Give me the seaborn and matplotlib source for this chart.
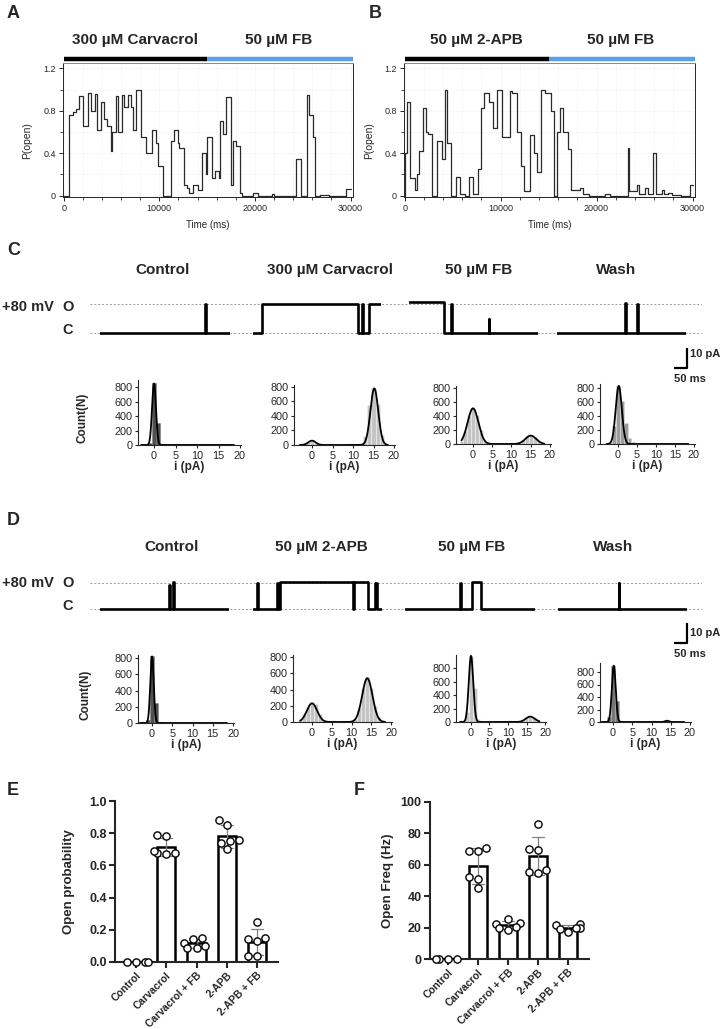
import numpy as np
import pandas as pd
import matplotlib
matplotlib.use('Agg')
import matplotlib.pyplot as plt
from matplotlib.ticker import MultipleLocator
import seaborn as sns

sns.set_style('ticks')
plt.rcParams['font.family'] = ['Liberation Sans', 'DejaVu Sans']

W, H = 724, 1029

# ---------------- data ----------------
# A / B : P(open) steps (start time in ms, value)
a_conditions = ['300 µM Carvacrol', '50 µM FB']
b_conditions = ['50 µM 2-APB', '50 µM FB']
cond_edges = [0, 15000, 30260]
cond_colors = ['black', '#5b9ee8']
popen_ticks = [0, 0.4, 0.8, 1.2]
popen_ticklabels = ['0', '0.4', '0.8', '1.2']
time_ticks = [0, 10000, 20000, 30000]

a_t = [0, 0, 550, 1000, 1300, 1650, 2050, 2550, 2850, 3250, 3450, 3950, 4200, 4550, 4900, 5100,
       5500, 5700, 6150, 6350, 6750, 7000, 7250, 7600, 8050, 8600, 9200, 9700, 9900, 10350,
       11250, 11500, 11950, 12100, 12550, 12900, 13150, 13500, 14050, 14450, 14850, 15000,
       15550, 15800, 16200, 16300, 16700, 17000, 17450, 17750, 18050, 18400, 18600, 19850,
       20350, 21800, 22000, 24350, 24850, 25400, 25650, 26050, 26250, 26800, 27800, 29550, 30000]
a_p = [0.0, 0.0, 0.76, 0.79, 0.82, 0.94, 0.66, 0.97, 0.80, 0.96, 0.62, 0.88, 0.72, 0.66, 0.42, 0.60,
       0.94, 0.60, 0.95, 0.84, 0.95, 0.84, 0.62, 1.00, 0.55, 0.40, 0.62, 0.50, 0.28, 0.0,
       0.52, 0.62, 0.50, 0.45, 0.10, 0.07, 0.03, 0.10, 0.05, 0.40, 0.20, 0.55,
       0.17, 0.23, 0.17, 0.70, 0.58, 0.93, 0.10, 0.52, 0.47, 0.03, 0.0, 0.03,
       0.0, 0.02, 0.0, 0.35, 0.0, 0.95, 0.76, 0.55, 0.0, 0.01, 0.0, 0.06, 0.06]

b_t = [0, 0, 200, 600, 1050, 1250, 1450, 1900, 2250, 2450, 2880, 3400, 3850, 4200, 4450, 4880,
       5370, 5800, 6300, 6700, 7100, 7650, 7950, 8300, 8780, 9250, 9620, 10180, 10980, 11230,
       11680, 12100, 12480, 13080, 13530, 13780, 14190, 14650, 15240, 15520, 15870, 16220,
       16550, 16980, 17370, 18300, 18580, 19200, 20900, 21450, 23230, 23400, 24230, 24450,
       25050, 25350, 25840, 26200, 26850, 27050, 27400, 27900, 28780, 29700, 30000]
b_p = [0.0, 0.40, 0.88, 0.17, 0.05, 0.20, 0.42, 0.83, 0.60, 0.58, 0.0, 0.52, 0.35, 1.00, 0.50, 0.0,
       0.18, 0.02, 0.0, 0.18, 0.02, 0.25, 0.83, 0.97, 0.88, 0.64, 1.00, 0.55, 0.99, 0.97,
       0.60, 0.28, 0.04, 0.57, 0.40, 0.22, 1.00, 0.97, 0.80, 0.0, 0.60, 0.83,
       0.60, 0.44, 0.05, 0.07, 0.02, 0.0, 0.02, 0.0, 0.45, 0.04, 0.10, 0.02,
       0.07, 0.02, 0.40, 0.02, 0.05, 0.02, 0.03, 0.01, 0.0, 0.10, 0.10]

# C / D : single-channel traces (ms, pA), step levels
c_titles = ['Control', '300 µM Carvacrol', '50 µM FB', 'Wash']
d_titles = ['Control', '50 µM 2-APB', '50 µM FB', 'Wash']
open_level_c = 14.5
open_level_d = 13.0
scale_pA = 10
scale_ms = 50

c_traces = [
    ([0, 405, 407, 500], [0, 14.5, 0, 0]),
    ([0, 35, 410, 425, 428, 455, 500], [0, 14.5, 0, 14.5, 0, 14.5, 14.5]),
    ([0, 137, 163, 165, 310, 312, 500], [15.5, 0, 14.5, 0, 7, 0, 0]),
    ([0, 265, 267, 312, 314, 500], [0, 15, 0, 14.5, 0, 0]),
]
d_traces = [
    ([0, 268, 270, 284, 286, 500], [0, 12, 0, 13.5, 0, 0]),
    ([0, 15, 19, 94, 98, 106, 388, 391, 445, 474, 480, 500], [0, 13, 0, 13, 0, 13.5, 0, 13.5, 0, 13, 0, 0]),
    ([0, 213, 216, 259, 292, 500], [0, 13, 0, 13.5, 0, 0]),
    ([0, 236, 238, 500], [0, 13, 0, 0]),
]

# C / D : amplitude histograms, 1 pA bins centred on -3 ... 19 pA
bin_centers = np.arange(-3, 20)
c_counts = [
    [3, 5, 30, 850, 300, 15, 8, 8, 8, 8, 8, 8, 8, 8, 8, 8, 8, 8, 8, 8, 8, 8, 0],
    [2, 8, 35, 60, 35, 8, 2, 1, 1, 1, 1, 1, 1, 1, 1, 10, 120, 550, 780, 560, 140, 15, 0],
    [50, 180, 400, 510, 420, 200, 50, 10, 2, 2, 2, 2, 2, 2, 2, 20, 60, 110, 120, 100, 50, 15, 3],
    [2, 20, 250, 830, 620, 300, 80, 30, 15, 15, 15, 15, 15, 15, 15, 15, 15, 15, 15, 15, 15, 10, 0],
]
d_counts = [
    [3, 5, 40, 820, 250, 10, 6, 6, 6, 6, 6, 6, 6, 6, 6, 6, 6, 6, 6, 6, 0, 0, 0],
    [30, 100, 180, 230, 220, 100, 20, 2, 2, 2, 2, 2, 2, 2, 40, 170, 420, 540, 420, 200, 60, 10, 0],
    [2, 10, 150, 980, 500, 40, 10, 5, 5, 5, 5, 5, 5, 5, 5, 5, 10, 30, 60, 80, 60, 25, 5],
    [2, 10, 80, 900, 330, 20, 5, 5, 5, 5, 5, 5, 5, 5, 5, 5, 10, 20, 5, 0, 0, 0, 0],
]
# gaussian fits: (amplitude, mean, sd)
c_fits = [[(850, 0.0, 0.45)],
          [(60, 0.0, 0.9), (780, 15.2, 0.95)],
          [(510, 0.0, 1.4), (120, 15.0, 1.4)],
          [(830, 0.2, 0.8)]]
d_fits = [[(820, 0.0, 0.42)],
          [(230, 0.0, 1.3), (540, 14.0, 1.3)],
          [(980, 0.0, 0.6), (80, 16.0, 1.2)],
          [(900, 0.2, 0.5), (20, 14.0, 0.5)]]

# E / F : summary
groups = ['Control', 'Carvacrol', 'Carvacrol + FB', '2-APB', '2-APB + FB']
po_control = [0, 0, 0, 0]
po_carv = [0.79, 0.78, 0.68, 0.67, 0.69, 0.68]
po_carv_fb = [0.14, 0.15, 0.12, 0.09, 0.09, 0.10]
po_apb = [0.88, 0.85, 0.76, 0.75, 0.74, 0.70]
po_apb_fb = [0.25, 0.15, 0.14, 0.13, 0.04, 0.04]
fr_control = [0, 0, 0, 0]
fr_carv = [71, 68.5, 68.5, 51, 52, 45]
fr_carv_fb = [22, 23, 25.5, 18.5, 19.5, 20.5]
fr_apb = [86, 70, 69.5, 57, 55.5, 55]
fr_apb_fb = [21.5, 22, 20, 19, 19.5, 17]

# ---------------- figure ----------------
fig = plt.figure(figsize=(W / 100, H / 100), dpi=100)


def px_axes(l, t, r, b):
    return fig.add_axes([l / W, 1 - b / H, (r - l) / W, (b - t) / H])


def px_text(x, y, s, **kw):
    fig.text(x / W, 1 - y / H, s, **kw)


for lab, x, y in [('A', 7, 5), ('B', 369, 5), ('C', 7, 242), ('D', 7, 512), ('E', 7, 782), ('F', 354, 782)]:
    px_text(x, y, lab, fontsize=13, fontweight='bold', va='top', ha='left')


# ---- A / B ----
def popen_panel(box, t, p, conds, ylab_x):
    ax = px_axes(*box)
    sns.lineplot(x=t, y=p, drawstyle='steps-post', color='#2a2a2a', lw=0.9,
                 sort=False, estimator=None, ax=ax)
    ax.set_xlim(-70, 30260)
    ax.set_ylim(-0.012, 1.25)
    ax.set_xticks(time_ticks)
    ax.set_yticks(popen_ticks)
    ax.set_yticklabels(popen_ticklabels)
    ax.xaxis.set_minor_locator(MultipleLocator(2000))
    ax.yaxis.set_minor_locator(MultipleLocator(0.2))
    ax.grid(True, which='both', color='#e8e8e8', lw=0.5, ls=':')
    ax.tick_params(labelsize=6.5, length=3, width=0.7, pad=2)
    ax.tick_params(which='minor', length=2, width=0.6)
    for s in ax.spines.values():
        s.set_linewidth(0.7)
    ax.spines['top'].set_color('#888888')
    ax.set_xlabel('Time (ms)', fontsize=7)
    ax.set_ylabel('P(open)', fontsize=7.5)
    ax.xaxis.set_label_coords(0.5, -0.17)
    ax.yaxis.set_label_coords(ylab_x, 0.42)
    tr = ax.get_xaxis_transform()
    ax.hlines([1.028, 1.028], cond_edges[:-1], cond_edges[1:], colors=cond_colors,
              lw=3.2, transform=tr, clip_on=False)
    for i, c in enumerate(conds):
        ax.text((cond_edges[i] + cond_edges[i + 1] - 260 * (i == 1)) / 2, 1.17, c,
                transform=tr, ha='center', va='center', fontsize=11, fontweight='bold')


popen_panel((63, 63, 353, 197), a_t, a_p, a_conditions, -0.107)
popen_panel((404, 63, 695, 197), b_t, b_p, b_conditions, -0.103)


# ---- C / D traces ----
def trace_row(titles, traces, xs, c_y, open_level, title_x, title_y, sb_box, sb_text):
    top, bot = c_y - 21.5 * 2, c_y + 6 * 2
    bg = px_axes(90, top, 702, bot)
    bg.set_ylim(-6, 21.5)
    bg.axhline(0, color='#9a9a9a', lw=0.7, ls=(0, (2, 2)))
    bg.axhline(open_level, color='#9a9a9a', lw=0.7, ls=(0, (2, 2)))
    bg.axis('off')
    for (l, r), (t, i) in zip(xs, traces):
        ax = px_axes(l, top, r, bot)
        ax.step(t, i, where='post', color='black', lw=1.9)
        ax.set_xlim(0, 500)
        ax.set_ylim(-6, 21.5)
        ax.axis('off')
    for x, s in zip(title_x, titles):
        px_text(x, title_y, s, fontsize=11, fontweight='bold', ha='center', va='center')
    px_text(2, c_y - 26, '+80 mV', fontsize=10.5, fontweight='bold', ha='left', va='center')
    px_text(68, c_y - 26, 'O', fontsize=10.5, fontweight='bold', ha='center', va='center')
    px_text(68, c_y - 3, 'C', fontsize=10.5, fontweight='bold', ha='center', va='center')
    sb = px_axes(*sb_box)
    sb.plot([0, scale_ms, scale_ms], [0, 0, scale_pA], color='black', lw=1.6,
            solid_capstyle='butt', clip_on=False)
    sb.set_xlim(0, scale_ms)
    sb.set_ylim(0, scale_pA)
    sb.axis('off')
    px_text(sb_text[0], sb_text[1], f'{scale_pA} pA', fontsize=8, fontweight='bold', ha='left', va='center')
    px_text(sb_box[0], sb_text[2], f'{scale_ms} ms', fontsize=8, fontweight='bold', ha='left', va='center')


trace_row(c_titles, c_traces, [(100, 230), (253, 381), (409, 538), (557, 686)], 333, open_level_c,
          [163, 330, 479, 616], 270, (674, 348, 687, 368), (690, 354, 379))
trace_row(d_titles, d_traces, [(100, 229), (253, 382), (405, 535), (558, 687)], 609, open_level_d,
          [172, 321, 472, 613], 547, (674, 623, 687, 643), (690, 633, 654))


# ---- C / D histograms ----
def hist_panel(box, counts, fits, color, edge, first):
    l, x0, x20, t, b, ymax = box
    scale = (x20 - x0) / 20
    ax = px_axes(l, t, x20 + 0.3 * scale, b)
    hdf = pd.DataFrame({'i': bin_centers.astype(float), 'n': np.asarray(counts, dtype=float)})
    sns.histplot(data=hdf, x='i', weights='n', binwidth=1.0, binrange=(-3.5, 19.5),
                 color=color, edgecolor=edge, linewidth=0.4, alpha=1.0, ax=ax)
    xs = np.linspace(-3, 18.5, 400)
    ys = sum(a * np.exp(-0.5 * ((xs - m) / s) ** 2) for a, m, s in fits)
    ax.plot(xs, ys, color='black', lw=1.3)
    ax.set_xlim(-(x0 - l) / scale, 20.3)
    ax.set_ylim(0, ymax)
    ax.set_xticks([0, 5, 10, 15, 20])
    ax.set_yticks([0, 200, 400, 600, 800])
    sns.despine(ax=ax)
    for s in ax.spines.values():
        s.set_linewidth(0.8)
    ax.tick_params(labelsize=7.8, length=2.5, width=0.8, pad=1.5)
    ax.set_xlabel('i (pA)', fontsize=8.5, fontweight='bold', labelpad=0.5)
    if first:
        ax.set_ylabel('Count(N)', fontsize=8.5, fontweight='bold')
        ax.yaxis.set_label_coords(-0.48, 0.42)
    else:
        ax.set_ylabel('')


c_hist_box = [(138, 154, 240, 380, 445, 897), (294, 312, 394, 385, 445, 827),
              (456, 473, 550, 386, 444, 829), (600, 618, 694, 384, 444, 857)]
d_hist_box = [(138, 152, 233, 655, 723, 837), (293, 312, 391, 655, 722, 825),
              (456, 471, 545, 655, 722, 993), (600, 613, 690, 663, 722, 944)]
c_hist_col = [('#505050', '#808080'), ('#c4c4c4', '#f2f2f2'), ('#c4c4c4', '#f2f2f2'), ('#9c9c9c', '#dddddd')]
d_hist_col = [('#505050', '#808080'), ('#c4c4c4', '#f2f2f2'), ('#c4c4c4', '#f2f2f2'), ('#777777', '#aaaaaa')]
for k in range(4):
    hist_panel(c_hist_box[k], c_counts[k], c_fits[k], *c_hist_col[k], k == 0)
    hist_panel(d_hist_box[k], d_counts[k], d_fits[k], *d_hist_col[k], k == 0)


# ---- E / F ----
def dot_bar(box, values, ymax, yticks, ylabel, xlim, ylab_x):
    df = pd.DataFrame({'group': np.repeat(groups, [len(v) for v in values]),
                       'value': np.concatenate(values)})
    ax = px_axes(*box)
    sns.barplot(data=df, x='group', y='value', order=groups, errorbar='sd', capsize=0.4,
                color='white', edgecolor='black', linewidth=1.8, width=0.6,
                err_kws={'color': '#808080', 'linewidth': 0.9}, ax=ax)
    sns.swarmplot(data=df, x='group', y='value', order=groups, color='white', edgecolor='black',
                  linewidth=1.0, size=5.2, ax=ax, zorder=4, clip_on=False)
    ax.set_xlim(*xlim)
    ax.set_ylim(0, ymax)
    ax.set_yticks(yticks)
    sns.despine(ax=ax)
    for s in ax.spines.values():
        s.set_linewidth(1.5)
    ax.tick_params(length=4, width=1.5, pad=2)
    ax.set_xticks(range(len(groups)))
    ax.set_xticklabels(groups, rotation=45, ha='right', rotation_mode='anchor',
                       fontsize=7.5, fontweight='bold')
    for lab in ax.get_yticklabels():
        lab.set_fontweight('bold')
        lab.set_fontsize(9)
    ax.set_xlabel('')
    ax.set_ylabel(ylabel, fontsize=9.5, fontweight='bold')
    ax.yaxis.set_label_coords(ylab_x, 0.5)


dot_bar((115, 801, 278, 962), [po_control, po_carv, po_carv_fb, po_apb, po_apb_fb], 1.0,
        [0, 0.2, 0.4, 0.6, 0.8, 1.0], 'Open probability', (-0.7, 4.7), -0.245)
dot_bar((430, 802, 589, 959), [fr_control, fr_carv, fr_carv_fb, fr_apb, fr_apb_fb], 100,
        [0, 20, 40, 60, 80, 100], 'Open Freq (Hz)', (-0.6, 4.7), -0.226)

fig.savefig('out.png', dpi=100)
